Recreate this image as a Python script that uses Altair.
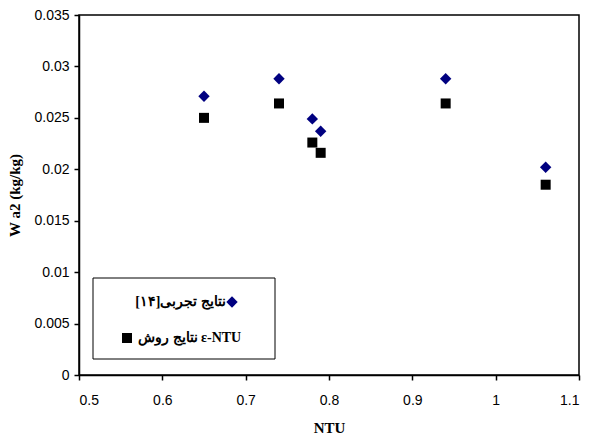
import altair as alt
import pandas as pd

# Data
ntu = [0.65, 0.74, 0.78, 0.79, 0.94, 1.06]
experimental = [0.0271, 0.0288, 0.0249, 0.0237, 0.0288, 0.0202]
entu_method = [0.0250, 0.0264, 0.0226, 0.0216, 0.0264, 0.0185]
series_names = ["نتایج تجربی[۱۴]", "نتایج روش ε-NTU"]
x_ticks = [0.5, 0.6, 0.7, 0.8, 0.9, 1.0, 1.1]
y_ticks = [0, 0.005, 0.01, 0.015, 0.02, 0.025, 0.03, 0.035]

rows = []
for xv, a, b in zip(ntu, experimental, entu_method):
    rows.append({"NTU": xv, "Wa2": a, "series": series_names[0]})
    rows.append({"NTU": xv, "Wa2": b, "series": series_names[1]})
df = pd.DataFrame(rows)

W, H = 500, 360

x_enc = alt.X(
    "NTU:Q",
    scale=alt.Scale(domain=[0.5, 1.1], nice=False, zero=False),
    axis=alt.Axis(
        values=x_ticks, format=".1~f", title="NTU", grid=False,
        titleX=W / 2, titleY=52, titleBaseline="middle", titleAlign="center",
    ),
)
y_enc = alt.Y(
    "Wa2:Q",
    scale=alt.Scale(domain=[0, 0.035], nice=False),
    axis=alt.Axis(
        values=y_ticks, format=".3~f", title="W a2 (kg/kg)", grid=False,
        titleAngle=270, titleX=-65, titleY=H / 2, titleBaseline="middle",
        titleAlign="center",
    ),
)

points = alt.Chart(df).mark_point(filled=True, opacity=1).encode(
    x=x_enc,
    y=y_enc,
    shape=alt.Shape("series:N", scale=alt.Scale(domain=series_names, range=["diamond", "square"]), legend=None),
    color=alt.Color("series:N", scale=alt.Scale(domain=series_names, range=["#000080", "#000000"]), legend=None),
    size=alt.Size("series:N", scale=alt.Scale(domain=series_names, range=[130, 100]), legend=None),
)

# Custom legend (RTL-style layout as in the reference)
one = pd.DataFrame({"k": [0]})
leg_box = alt.Chart(one).mark_rect(fill="white", stroke="black", strokeWidth=1).encode(
    x=alt.value(14), x2=alt.value(196), y=alt.value(263), y2=alt.value(344)
)
leg_text1 = alt.Chart(pd.DataFrame({"t": [series_names[0]]})).mark_text(
    align="right", baseline="middle", font="Liberation Serif", fontWeight="bold", fontSize=14, color="black"
).encode(x=alt.value(147), y=alt.value(287), text="t:N")
leg_sym1 = alt.Chart(one).mark_point(shape="diamond", filled=True, opacity=1, size=130, color="#000080").encode(
    x=alt.value(153), y=alt.value(287)
)
leg_sym2 = alt.Chart(one).mark_point(shape="square", filled=True, opacity=1, size=100, color="#000000").encode(
    x=alt.value(48), y=alt.value(323)
)
leg_text2 = alt.Chart(pd.DataFrame({"t": [series_names[1]]})).mark_text(
    align="left", baseline="middle", font="Liberation Serif", fontWeight="bold", fontSize=14, color="black"
).encode(x=alt.value(59), y=alt.value(323), text="t:N")

chart = alt.layer(points, leg_box, leg_text1, leg_sym1, leg_sym2, leg_text2).properties(
    width=W, height=H,
    autosize=alt.AutoSizeParams(type="none"),
    padding={"left": 71, "top": 7, "right": 2, "bottom": 59},
).configure_view(
    stroke="black", strokeWidth=1.5
).configure_axis(
    labelFont="Liberation Sans", labelFontSize=14, labelColor="black",
    titleFont="Liberation Serif", titleFontSize=15, titleFontWeight="bold", titleColor="black",
    domainColor="black", domainWidth=1.5, tickColor="black", tickWidth=1.5, tickSize=5,
).configure_axisX(
    labelPadding=13
).configure_axisY(
    labelPadding=5
)

chart.save("out.html", embed_options={"renderer": "svg", "actions": False})
